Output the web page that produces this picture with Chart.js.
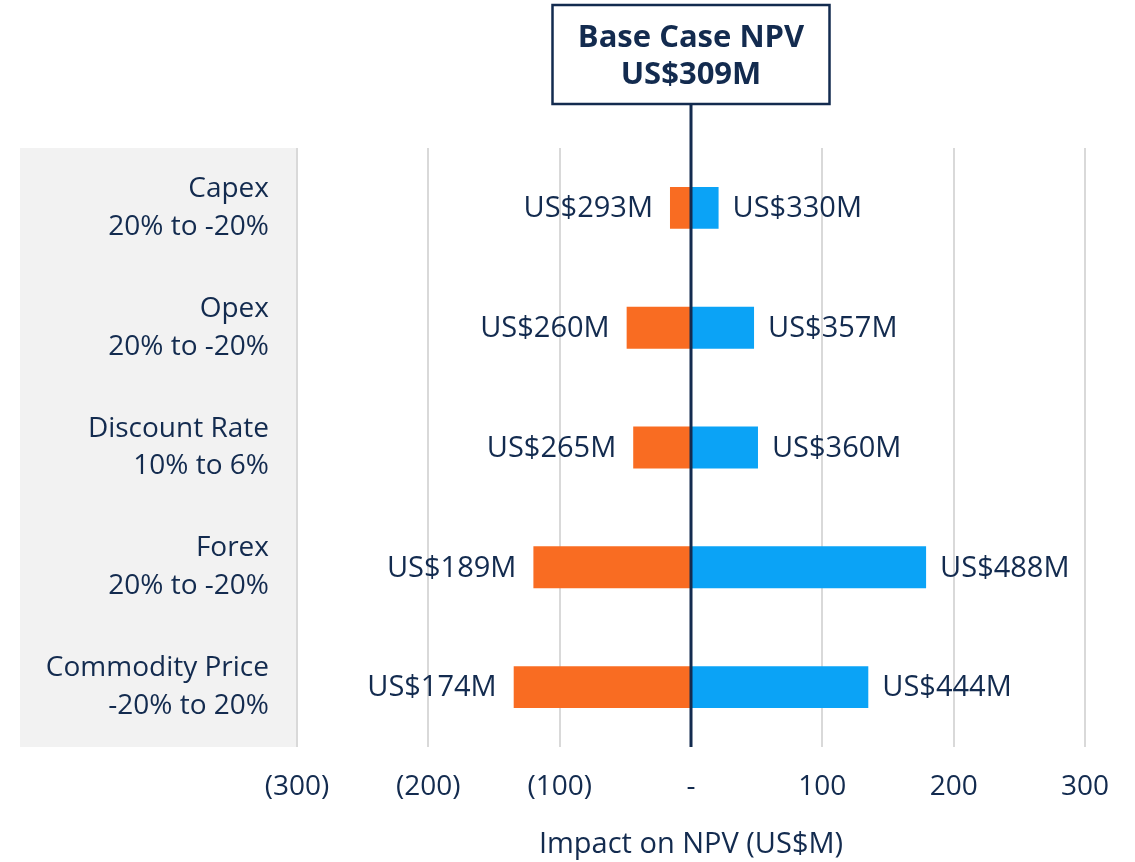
<!DOCTYPE html>
<html>
<head>
<meta charset="utf-8">
<script src="https://cdn.jsdelivr.net/npm/chart.js@4/dist/chart.umd.min.js"></script>
<style>
  body { margin: 0; background: #fff; }
  #wrap { width: 1135px; height: 862px; }
</style>
</head>
<body>
<div id="wrap"><canvas id="tornado"></canvas></div>
<script>
/**
 * NPV sensitivity (tornado) chart
 */
const baseCase = 309;
const categories = [
    ["Capex", "20% to -20%"],
    ["Opex", "20% to -20%"],
    ["Discount Rate", "10% to 6%"],
    ["Forex", "20% to -20%"],
    ["Commodity Price", "-20% to 20%"]
];
const lowNpv = [293, 260, 265, 189, 174];
const highNpv = [330, 357, 360, 488, 444];
const xTicks = [-300, -200, -100, 0, 100, 200, 300];

const NAVY = "#132b4f";
const FONT = "'Open Sans', 'Noto Sans', sans-serif";

// grey panel behind the category labels + zero line + title box
const decorations = {
    id: "decorations",
    beforeDraw(chart) {
        const { ctx, chartArea, scales } = chart;
        const y = scales.y;
        ctx.save();
        ctx.fillStyle = "#f2f2f2";
        ctx.fillRect(y.left, chartArea.top, y.right - y.left, chartArea.bottom - chartArea.top);
        ctx.restore();
    },
    afterDatasetsDraw(chart) {
        const { ctx, chartArea, scales } = chart;
        const x0 = scales.x.getPixelForValue(0);

        // labels at bar ends
        ctx.save();
        ctx.font = "29px " + FONT;
        ctx.fillStyle = NAVY;
        ctx.textBaseline = "middle";
        chart.getDatasetMeta(0).data.forEach((bar, i) => {
            ctx.textAlign = "right";
            ctx.fillText("US$" + lowNpv[i] + "M", bar.x - 17, bar.y + 1);
        });
        chart.getDatasetMeta(1).data.forEach((bar, i) => {
            ctx.textAlign = "left";
            ctx.fillText("US$" + highNpv[i] + "M", bar.x + 14, bar.y + 1);
        });

        // zero line
        const boxTop = 5, boxBottom = 104, boxW = 277;
        ctx.strokeStyle = NAVY;
        ctx.lineWidth = 3;
        ctx.beginPath();
        ctx.moveTo(x0, boxBottom);
        ctx.lineTo(x0, chartArea.bottom);
        ctx.stroke();

        // base case box
        ctx.fillStyle = "#fff";
        ctx.fillRect(x0 - boxW / 2, boxTop, boxW, boxBottom - boxTop);
        ctx.lineWidth = 2.5;
        ctx.strokeRect(x0 - boxW / 2, boxTop, boxW, boxBottom - boxTop);
        ctx.fillStyle = NAVY;
        ctx.font = "bold 31px " + FONT;
        ctx.textAlign = "center";
        ctx.fillText("Base Case NPV", x0, 38);
        ctx.fillText("US$" + baseCase + "M", x0, 75);
        ctx.restore();
    }
};

const ctx = document.getElementById("tornado");

new Chart(ctx, {
    type: "bar",
    data: {
        labels: categories,
        datasets: [
            {
                data: lowNpv.map(v => v - baseCase),
                backgroundColor: "#f96c22"
            },
            {
                data: highNpv.map(v => v - baseCase),
                backgroundColor: "#0ba3f6"
            }
        ]
    },
    options: {
        indexAxis: "y", // horizontal bars
        responsive: true,
        maintainAspectRatio: false,
        animation: false,
        categoryPercentage: 1,
        barPercentage: 0.35,
        layout: {
            padding: { top: 148, left: 20, right: 50, bottom: 0 }
        },
        plugins: {
            legend: { display: false },
            tooltip: { enabled: false }
        },
        scales: {
            x: {
                stacked: true,
                min: -300,
                max: 300,
                afterBuildTicks: scale => {
                    scale.ticks = xTicks.map(v => ({ value: v }));
                },
                afterFit: scale => { scale.height = 115; },
                grid: {
                    color: "#d9d9d9",
                    lineWidth: 2,
                    drawTicks: false
                },
                border: { display: false },
                ticks: {
                    padding: 23,
                    color: NAVY,
                    font: { family: FONT, size: 28 },
                    maxRotation: 0,
                    callback: v => v === 0 ? "-" : (v < 0 ? "(" + Math.abs(v) + ")" : String(v))
                },
                title: {
                    display: true,
                    text: "Impact on NPV (US$M)",
                    color: NAVY,
                    font: { family: FONT, size: 29 },
                    padding: { top: 24, bottom: 0 }
                }
            },
            y: {
                stacked: true,
                afterFit: scale => { scale.width = 277; },
                grid: { display: false },
                border: { display: false },
                ticks: {
                    padding: 20,
                    color: NAVY,
                    font: { family: FONT, size: 28, lineHeight: 1.35 }
                }
            }
        }
    },
    plugins: [decorations]
});
</script>
</body>
</html>
